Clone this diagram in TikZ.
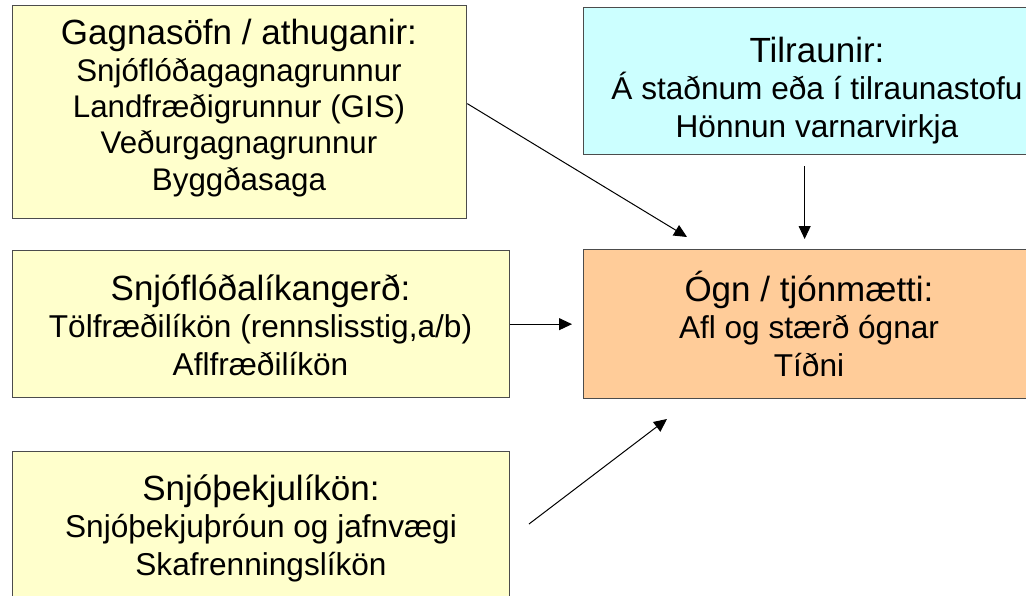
\documentclass[tikz,border=0pt]{standalone}
\usepackage{fontspec}
\setmainfont{Liberation Sans}
\usetikzlibrary{arrows.meta}

\definecolor{gulur}{RGB}{255,255,204}
\definecolor{blar}{RGB}{204,255,255}
\definecolor{appels}{RGB}{255,204,153}

\tikzset{
  box/.style={draw=black!70, line width=1.3pt, anchor=north west, inner sep=0pt},
  boxtext/.style={align=center, anchor=base, font=\fontsize{31.6}{37.5}\selectfont},
  pil/.style={-{Triangle[length=13pt,width=12pt]}, line width=1pt},
}
\newcommand{\boxhead}[1]{{\fontsize{35}{37.5}\selectfont #1}}

\begin{document}
\begin{tikzpicture}[x=1pt,y=-1pt]
\path [use as bounding box, clip] (0,0) rectangle (1026,595);

\node (gagn) at (12,5) [box, fill=gulur, minimum width=454pt, minimum height=213pt]{};
\node (gagn-t) at (239,190) [boxtext, font=\fontsize{31.3}{36.3}\selectfont]{\boxhead{Gagnasöfn / athuganir:}\\ Snjóflóðagagnagrunnur\\ Landfræðigrunnur (GIS)\\ Veðurgagnagrunnur\\ Byggðasaga};

\node (tilr) at (583,7) [box, fill=blar, minimum width=468pt, minimum height=147pt]{};
\node (tilr-t) at (817,137) [boxtext]{\boxhead{Tilraunir:}\\ Á staðnum eða í tilraunastofu\\ Hönnun varnarvirkja};

\node (likan) at (12,250) [box, fill=gulur, minimum width=497pt, minimum height=147pt]{};
\node (likan-t) at (260.5,375) [boxtext]{\boxhead{Snjóflóðalíkangerð:}\\ Tölfræðilíkön (rennslisstig,a/b)\\ Aflfræðilíkön};

\node (ogn) at (583,249) [box, fill=appels, minimum width=452pt, minimum height=149pt]{};
\node (ogn-t) at (809,376) [boxtext]{\boxhead{Ógn / tjónmætti:}\\ Afl og stærð ógnar\\ Tíðni};

\node (snjo) at (12,451) [box, fill=gulur, minimum width=497pt, minimum height=150pt]{};
\node (snjo-t) at (261,575) [boxtext]{\boxhead{Snjóþekjulíkön:}\\ Snjóþekjuþróun og jafnvægi\\ Skafrenningslíkön};

\coordinate (gagn-ogn) at (687,237);
\coordinate (snjo-a) at (529,524);
\coordinate (snjo-ogn) at (667,419);

\draw [pil] ([yshift=8.5pt]gagn.east) -- (gagn-ogn);
\draw [pil] ([shift={(-13pt,-11pt)}]tilr.south) -- ([shift={(-5pt,10pt)}]ogn.north);
\draw [pil] (likan.east) -- ([xshift=-11pt]ogn.west);
\draw [pil] (snjo-a) -- (snjo-ogn);

\end{tikzpicture}
\end{document}
